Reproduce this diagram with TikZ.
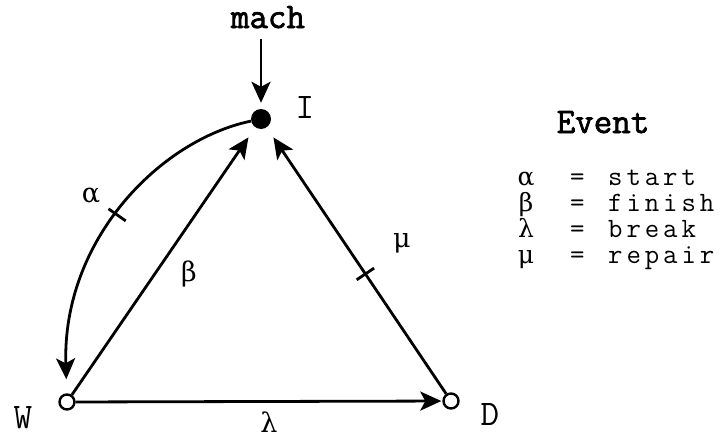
\documentclass[tikz,border=0pt]{standalone}
\usepackage{fontspec}
\usetikzlibrary{arrows.meta,decorations.markings}
\newfontfamily\mono{Latin Modern Mono}
\newfontfamily\monos{Latin Modern Mono}[LetterSpace=14]
\newfontfamily\monob{Latin Modern Mono}[FakeBold=2]
\newfontfamily\grk{DejaVu Serif}
\begin{document}
\begin{tikzpicture}[x=1pt,y=-1pt,
  ln/.style={line width=2.8pt},
  arr/.style={ln,-{Stealth[length=21pt,width=19pt,inset=5pt]}},
  opendot/.style={circle,draw,line width=2.4pt,fill=white,minimum size=15pt,inner sep=0pt},
  filldot/.style={circle,fill,minimum size=20pt,inner sep=0pt},
  lbl/.style={font=\mono\fontsize{36}{36}\selectfont,inner sep=0pt,anchor=base},
  leg/.style={font=\monos\fontsize{28}{28}\selectfont,inner sep=0pt,anchor=base west},
  glbl/.style={font=\grk\fontsize{27}{27}\selectfont,inner sep=0pt,anchor=base},
  glg/.style={font=\grk\fontsize{25}{25}\selectfont,inner sep=0pt,anchor=base},
  blbl/.style={font=\monob\fontsize{36}{36}\selectfont,inner sep=0pt,anchor=base},
  tickat/.style={postaction={decorate,decoration={markings,
     mark=at position #1 with {\draw[-,line width=2.8pt,shorten >=0pt] (0,-10.5pt) -- (0,10.5pt);}}}}
]
\path (0,0) rectangle (727,439);
% states
\node[filldot] (I) at (261,119) {};
\node[opendot] (W) at (67,402) {};
\node[opendot] (D) at (451,401) {};
% labels
\node[blbl] (mach) at (268,28) {mach};
\node[lbl] (lI) at (305,118) {I};
\node[lbl] (lW) at (23,428) {W};
\node[lbl] (lD) at (490,425) {D};
\node[glbl] (la) at (91,202) {α};
\node[glbl] (lb) at (189,281) {β};
\node[glbl] (lm) at (402,247) {μ};
\node[glbl] (ll) at (269,432) {λ};
% connectors
\path (mach.south -| I) ++(0,-11pt) coordinate (m0);
\draw[arr,shorten >=6pt] (m0) -- (I);
\draw[arr,shorten >=12pt] (W) -- (I);
\draw[arr,shorten >=12pt,tickat=0.45] (D) -- (I);
\draw[arr,shorten >=1pt] (W) -- (D);
\draw[arr,shorten >=14pt,tickat=0.47] (I) .. controls (160,140) and (62,240) .. (W);
% legend
\node[blbl] (ev) at (603,133) {Event};
\node[glg] (ga) at (526,185) {α};
\node[glg] (gb) at (526,211) {β};
\node[glg] (gl) at (526,237) {λ};
\node[glg] (gm) at (526,263) {μ};
\node[leg] (ea) at (570,185) {=};
\node[leg] (eb) at (570,211) {=};
\node[leg] (el) at (570,237) {=};
\node[leg] (em) at (570,263) {=};
\node[leg] (ta) at (608,185) {start};
\node[leg] (tb) at (608,211) {finish};
\node[leg] (tl) at (608,237) {break};
\node[leg] (tm) at (608,263) {repair};
\end{tikzpicture}
\end{document}
